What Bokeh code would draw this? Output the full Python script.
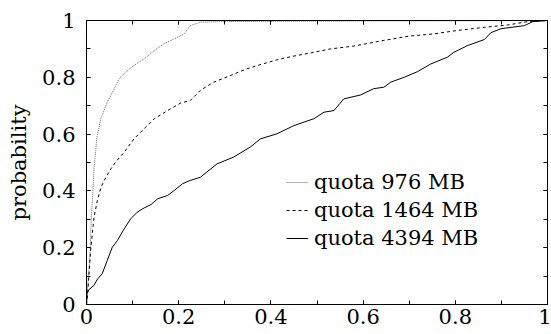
from bokeh.plotting import figure
from bokeh.models import Range1d, LinearAxis, FixedTicker, CustomJSTickFormatter
from bokeh.embed import file_html
from bokeh.resources import INLINE

# --- data ---
x976 = [0, 0.001, 0.003, 0.005, 0.008, 0.009, 0.0105, 0.0126, 0.0148, 0.0163, 0.02, 0.022, 0.031, 0.045,
        0.060, 0.0707, 0.085, 0.103, 0.125, 0.147, 0.168, 0.19, 0.212, 0.225, 0.247, 0.297, 0.5, 0.8, 1.0]
y976 = [0, 0.026, 0.073, 0.12, 0.19, 0.249, 0.307, 0.366, 0.425, 0.483, 0.542, 0.583, 0.654, 0.712,
        0.759, 0.795, 0.818, 0.842, 0.865, 0.894, 0.918, 0.935, 0.953, 0.982, 0.994, 0.996, 0.998, 0.999, 1.0]

x1464 = [0, 0.002, 0.005, 0.009, 0.0126, 0.0163, 0.0235, 0.0315, 0.042, 0.053, 0.063, 0.0815, 0.103, 0.125,
         0.147, 0.176, 0.205, 0.225, 0.247, 0.276, 0.312, 0.348, 0.384, 0.421, 0.457, 0.493, 0.529, 0.58,
         0.645, 0.70, 0.754, 0.805, 0.863, 0.913, 0.957, 1.0]
y1464 = [0, 0.026, 0.096, 0.19, 0.249, 0.307, 0.366, 0.413, 0.448, 0.478, 0.501, 0.536, 0.583, 0.619,
         0.654, 0.683, 0.710, 0.718, 0.754, 0.783, 0.806, 0.830, 0.848, 0.865, 0.877, 0.888, 0.90, 0.91,
         0.93, 0.945, 0.953, 0.965, 0.976, 0.984, 0.996, 1.0]

x4394 = [0, 0.001, 0.005, 0.016, 0.024, 0.034, 0.045, 0.056, 0.067, 0.0815, 0.096, 0.11, 0.125, 0.14,
         0.154, 0.176, 0.19, 0.208, 0.225, 0.247, 0.283, 0.319, 0.355, 0.377, 0.413, 0.45, 0.493, 0.515,
         0.537, 0.558, 0.595, 0.623, 0.645, 0.66, 0.689, 0.718, 0.747, 0.783, 0.797, 0.827, 0.863, 0.877,
         0.899, 0.95, 0.968, 1.0]
y4394 = [0, 0.038, 0.052, 0.067, 0.09, 0.108, 0.155, 0.202, 0.225, 0.266, 0.302, 0.325, 0.34, 0.352,
         0.372, 0.384, 0.401, 0.425, 0.437, 0.448, 0.495, 0.519, 0.554, 0.583, 0.601, 0.63, 0.654, 0.677,
         0.683, 0.724, 0.738, 0.76, 0.765, 0.783, 0.80, 0.82, 0.847, 0.871, 0.888, 0.912, 0.933, 0.957,
         0.971, 0.982, 0.996, 1.0]

labels = ["quota 976 MB", "quota 1464 MB", "quota 4394 MB"]
major_ticks = [0, 0.2, 0.4, 0.6, 0.8, 1.0]
minor_ticks = [0.1, 0.3, 0.5, 0.7, 0.9]

FONT = "DejaVu Serif"
FS = "21px"

p = figure(width=551, height=334, x_range=Range1d(0, 1), y_range=Range1d(0, 1),
           output_backend="svg", toolbar_location=None,
           min_border_left=86, min_border_right=4, min_border_top=20, min_border_bottom=30)
p.grid.visible = False
p.outline_line_color = "black"
p.outline_line_width = 1

fmt = CustomJSTickFormatter(code="return String(+tick.toFixed(1));")
blank = CustomJSTickFormatter(code="return '';")

def style_axis(ax, show_labels):
    ax.ticker = FixedTicker(ticks=major_ticks, minor_ticks=major_ticks + minor_ticks)
    ax.major_tick_in = 4
    ax.major_tick_out = 0
    ax.minor_tick_in = 4
    ax.minor_tick_out = 0
    ax.axis_line_color = "black"
    ax.major_tick_line_color = "black"
    ax.minor_tick_line_color = "black"
    ax.major_label_text_font = FONT
    ax.major_label_text_color = "black"
    ax.major_label_text_font_size = FS
    if show_labels:
        ax.formatter = fmt
    else:
        ax.formatter = blank
        ax.major_label_standoff = 0

style_axis(p.xaxis[0], True)
style_axis(p.yaxis[0], True)
p.xaxis[0].major_label_standoff = 4
p.yaxis[0].major_label_standoff = 11
p.yaxis[0].axis_label = "probability"
p.yaxis[0].axis_label_text_font = FONT
p.yaxis[0].axis_label_text_font_size = FS
p.yaxis[0].axis_label_text_font_style = "normal"
p.yaxis[0].axis_label_text_color = "black"
p.yaxis[0].axis_label_standoff = 8

top = LinearAxis()
style_axis(top, False)
p.add_layout(top, "above")
right = LinearAxis()
style_axis(right, False)
p.add_layout(right, "right")

p.line(x976, y976, line_color="#666666", line_width=1, line_dash="1 1", legend_label=labels[0])
p.line(x1464, y1464, line_color="black", line_width=1, line_dash="3 3", legend_label=labels[1])
p.line(x4394, y4394, line_color="black", line_width=1, legend_label=labels[2])

lg = p.legend[0]
lg.location = (200, 54)
lg.border_line_color = None
lg.background_fill_alpha = 0
lg.padding = 0
lg.margin = 0
lg.spacing = 4
lg.label_height = 24
lg.glyph_height = 24
lg.glyph_width = 22
lg.label_standoff = 6
lg.label_text_font = FONT
lg.label_text_font_size = FS
lg.label_text_color = "black"

open("out.html", "w").write(file_html(p, INLINE))
